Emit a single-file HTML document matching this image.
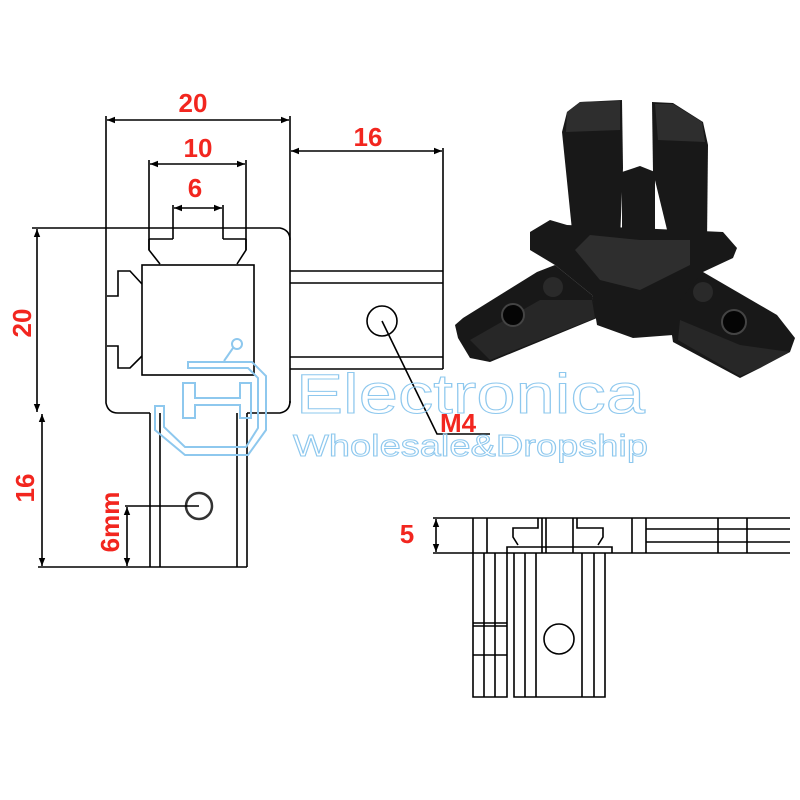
<!DOCTYPE html>
<html><head><meta charset="utf-8"><style>html,body{margin:0;padding:0;background:#fff}svg{display:block}</style></head><body>
<svg width="800" height="800" viewBox="0 0 800 800" xmlns="http://www.w3.org/2000/svg">
<defs><marker id="a" viewBox="0 0 10 10" refX="10" refY="5" markerWidth="7" markerHeight="5" orient="auto-start-reverse"><path d="M0,1 L10,5 L0,9 z" fill="#000"/></marker></defs>
<rect width="800" height="800" fill="#fff"/>
<g stroke="#000" stroke-width="1.6" fill="none">
<line x1="106" y1="116" x2="106" y2="228"/>
<line x1="290" y1="116" x2="290" y2="403"/>
<line x1="107" y1="120" x2="289" y2="120" marker-start="url(#a)" marker-end="url(#a)"/>
<line x1="149" y1="160" x2="149" y2="250"/>
<line x1="246" y1="160" x2="246" y2="250"/>
<line x1="150" y1="164" x2="245" y2="164" marker-start="url(#a)" marker-end="url(#a)"/>
<line x1="173" y1="205" x2="173" y2="239"/>
<line x1="223" y1="205" x2="223" y2="239"/>
<line x1="174" y1="208" x2="222" y2="208" marker-start="url(#a)" marker-end="url(#a)"/>
<line x1="291" y1="151" x2="442" y2="151" marker-start="url(#a)" marker-end="url(#a)"/>
<line x1="443" y1="148" x2="443" y2="369"/>
<path d="M32,228 L280,228 Q290,230 290,240"/>
<path d="M106,228 L106,403 Q108,413 118,413 L150,413"/>
<path d="M247,413 L280,413 Q290,411 290,401"/>
<line x1="290" y1="271" x2="443" y2="271"/>
<line x1="290" y1="283" x2="443" y2="283"/>
<line x1="290" y1="357" x2="443" y2="357"/>
<line x1="290" y1="369" x2="443" y2="369"/>
<path d="M149,239 L173,239 M223,239 L246,239 M149,239 L149,250 L160,264 M246,239 L246,250 L237,264"/>
<rect x="142" y="265" width="112" height="110"/>
<path d="M107,296 L118,296 L118,271 L130,271 L142,284 M107,346 L118,346 L118,368 L130,368 L142,356"/>
<line x1="150" y1="413" x2="150" y2="567"/>
<line x1="160" y1="413" x2="160" y2="567"/>
<line x1="237" y1="413" x2="237" y2="567"/>
<line x1="247" y1="413" x2="247" y2="567"/>
<line x1="38" y1="567" x2="247" y2="567"/>
<line x1="37" y1="229" x2="37" y2="412" marker-start="url(#a)" marker-end="url(#a)"/>
<line x1="42" y1="414" x2="42" y2="566" marker-start="url(#a)" marker-end="url(#a)"/>
<circle cx="199" cy="506" r="13" stroke-width="2.5" stroke="#333"/>
<line x1="125" y1="506" x2="199" y2="506"/>
<line x1="127" y1="507" x2="127" y2="566" marker-start="url(#a)" marker-end="url(#a)"/>
<circle cx="382" cy="321" r="15"/>
<path d="M382,321 L437,434 L490,434"/>
<line x1="433" y1="518" x2="790" y2="518"/>
<line x1="433" y1="553" x2="790" y2="553"/>
<line x1="436" y1="519" x2="436" y2="552" marker-start="url(#a)" marker-end="url(#a)"/>
<path d="M473,518 V553 M487,518 V553 M542,518 V553 M546,518 V553 M573,518 V553 M632,518 V553 M646,518 V553 M718,518 V553 M747,518 V553"/>
<path d="M646,529 H790 M646,542 H790"/>
<path d="M538,518 V528 H513 V537 L518,545 M577,518 V528 H603 V537 L598,545"/>
<path d="M507,553 V547 H612 V553"/>
<path d="M473,553 V697 H507 V553 M484,553 V697 M495,553 V697 M473,623 H507 M473,626 H507 M473,655 H507"/>
<path d="M514,553 V697 H605 V553 M525,553 V697 M536,553 V697 M582,553 V697 M594,553 V697"/>
<circle cx="559" cy="639" r="15"/>
</g>
<g fill="#f2261f" font-family="Liberation Sans, sans-serif" font-weight="bold" font-size="26">
<text x="193" y="112" text-anchor="middle">20</text>
<text x="198" y="157" text-anchor="middle">10</text>
<text x="195" y="197" text-anchor="middle">6</text>
<text x="368" y="146" text-anchor="middle">16</text>
<text x="407" y="543" text-anchor="middle">5</text>
<text x="440" y="432">M4</text>
<text transform="translate(31,323) rotate(-90)" text-anchor="middle">20</text>
<text transform="translate(34,488) rotate(-90)" text-anchor="middle">16</text>
<text transform="translate(119,522) rotate(-90)" text-anchor="middle">6mm</text>
</g>
<!-- photo -->
<g fill="#181818">
<path d="M455,325 L463,318 L537,272 L555,265 L592,295 L597,318 L490,362 L470,358 L458,338 Z"/>
<path d="M673,272 L703,272 L777,315 L795,338 L790,352 L760,368 L740,378 L673,342 L667,302 Z"/>
<path d="M530,232 L550,220 L567,225 L723,232 L737,248 L733,258 L703,272 L680,300 L673,335 L633,338 L597,325 L592,295 L555,265 L530,250 Z"/>
<path d="M562,132 L567,112 L580,102 L622,100 L623,168 L620,240 L573,240 Z"/>
<path d="M652,102 L673,103 L703,122 L708,145 L707,242 L670,242 L653,172 Z"/>
<path d="M622,172 L640,166 L655,172 L655,240 L622,240 Z"/>
</g>
<g fill="#2e2e2e">
<path d="M567,112 L580,102 L620,101 L620,130 L566,132 Z"/>
<path d="M655,104 L673,104 L702,122 L705,142 L658,140 Z"/>
<path d="M590,235 L640,240 L690,240 L690,265 L640,290 L600,280 L575,250 Z"/>
<path d="M470,340 L540,300 L592,300 L595,318 L490,360 Z" opacity=".7"/>
<path d="M680,320 L740,345 L790,352 L760,368 L740,376 L678,340 Z" opacity=".7"/>
</g>
<g fill="#050505" stroke="#444" stroke-width="2">
<circle cx="513" cy="315" r="11"/><circle cx="734" cy="322" r="12"/>
</g>
<g fill="#2a2a2a"><circle cx="553" cy="287" r="10"/><circle cx="703" cy="292" r="10"/></g>
<!-- watermark -->
<g fill="none" stroke="#8ec8ee" stroke-width="1" font-family="Liberation Sans, sans-serif">
<text x="296" y="413" font-size="56" textLength="349" lengthAdjust="spacingAndGlyphs">Electronica</text>
<text x="293" y="456" font-size="31" textLength="355" lengthAdjust="spacingAndGlyphs">Wholesale&amp;Dropship</text>
</g>
<g fill="none" stroke="#8ec8ee" stroke-width="2">
<path d="M188,362 L252,362 L266,376 L266,430 L248,455 L185,455 L155,430 L155,406 L164,406 L164,427 L185,447 L246,447 L258,428 L258,378 L248,368 L188,368 Z"/>
<circle cx="237" cy="344" r="5"/><line x1="233" y1="348" x2="224" y2="361"/>
<path d="M183,383 H195 V398 H240 V383 H251 V418 H240 V405 H195 V418 H183 Z"/>
</g>
</svg>
</body></html>
